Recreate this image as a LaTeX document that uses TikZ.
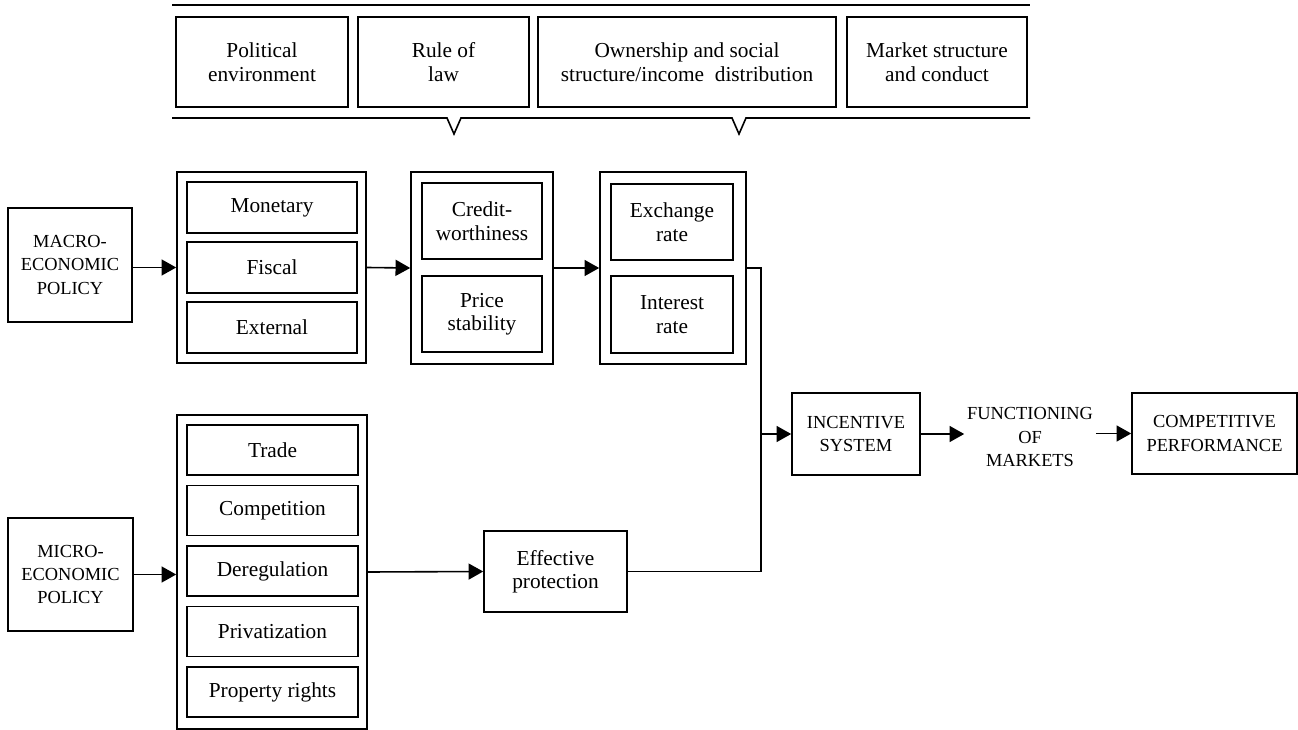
\documentclass[tikz,border=0pt]{standalone}
\usepackage{fontspec}
\setmainfont{Liberation Serif}
\usetikzlibrary{arrows.meta, calc}

\begin{document}
\begin{tikzpicture}[x=0.75pt, y=-0.75pt,
    wh/.style 2 args={minimum width={#1*0.75pt}, minimum height={#2*0.75pt}},
    box/.style={draw, line width=1.2pt, inner sep=0pt, align=center, font=\fontsize{16}{17.6}\selectfont},
    capbox/.style={box, font=\fontsize{13.8}{17.6}\selectfont},
    grp/.style={draw, line width=1.2pt, inner sep=0pt},
    arr/.style={-{Triangle[length=11pt,width=12pt]}, line width=1.2pt}]
    \useasboundingbox (0,0) rectangle (1298,730);

    % Framework conditions on top
    \draw[line width=1.2pt] (172,5) -- (1030,5);
    \node[box, wh={172}{90}] (pol) at (262,62) {Political\\environment};
    \node[box, wh={171}{90}] (law) at (443.5,62) {Rule of\\law};
    \node[box, wh={298}{90}] (own) at (687,62) {Ownership and social\\structure/income\ \ distribution};
    \node[box, wh={180}{90}] (mkt) at (937,62) {Market structure\\and conduct};
    \draw[line width=1.2pt] (172,118) -- (447,118) -- (454,134) -- (461,118)
        -- (732,118) -- (739,134) -- (746,118) -- (1030,118);

    % Macroeconomic branch
    \node[capbox, wh={124}{114}] (macro) at (70,265) {MACRO-\\ECONOMIC\\POLICY};
    \node[grp, wh={189}{191}] (g1) at (271.5,267.5) {};
    \foreach \txt [count=\i] in {Monetary, Fiscal, External}
        \node[box, wh={170}{51}] (m\i) at (272,{207.5+60*(\i-1)}) {\txt};
    \node[grp, wh={142}{192}] (g2) at (482,268) {};
    \node[box, wh={120}{76}] (credit) at (482,221) {Credit-\\worthiness};
    \node[box, wh={120}{76}] (price) at (482,314) {Price\\stability};
    \node[grp, wh={146}{192}] (g3) at (673,268) {};
    \node[box, wh={122}{76}] (exch) at (672,222) {Exchange\\rate};
    \node[box, wh={122}{77}] (inter) at (672,314.5) {Interest\\rate};

    \draw[arr] (macro.east |- g1.west) -- (g1.west);
    \draw[arr] (g1.east) -- (g2.west);
    \draw[arr] (g2.east) -- (g3.west);

    % Microeconomic branch
    \node[capbox, wh={125}{113}] (micro) at (70.5,574.5) {MICRO-\\ECONOMIC\\POLICY};
    \node[grp, wh={190}{314}] (g4) at (272,572) {};
    \foreach \txt [count=\i] in {Trade, Competition, Deregulation, Privatization, Property rights}
        \node[box, wh={171}{50}] (p\i) at (272.5,{450+60.5*(\i-1)}) {\txt};
    \node[box, wh={143}{81}] (eff) at (555.5,571.5) {Effective\\protection};

    \draw[arr] (micro.east) -- (micro.east -| g4.west);
    \draw[arr] (g4.east) -- (eff.west);

    % Outcome chain
    \node[capbox, wh={128}{82}] (inc) at (856,434) {INCENTIVE\\SYSTEM};
    \node[font=\fontsize{13.8}{17.6}\selectfont, align=center, inner sep=2pt] (fun) at (1030,437) {FUNCTIONING\\OF\\MARKETS};
    \node[capbox, wh={165}{81}] (comp) at (1214.5,433.5) {COMPETITIVE\\PERFORMANCE};
    \coordinate (jn) at (761,434);

    \draw[line width=1.2pt] (g3.east) -| (jn) |- (eff.east);
    \draw[arr] (jn) -- (inc.west);
    \draw[arr] (inc.east) -- (fun.west |- inc.east);
    \draw[arr] (fun.east |- comp.west) -- (comp.west);
\end{tikzpicture}
\end{document}
